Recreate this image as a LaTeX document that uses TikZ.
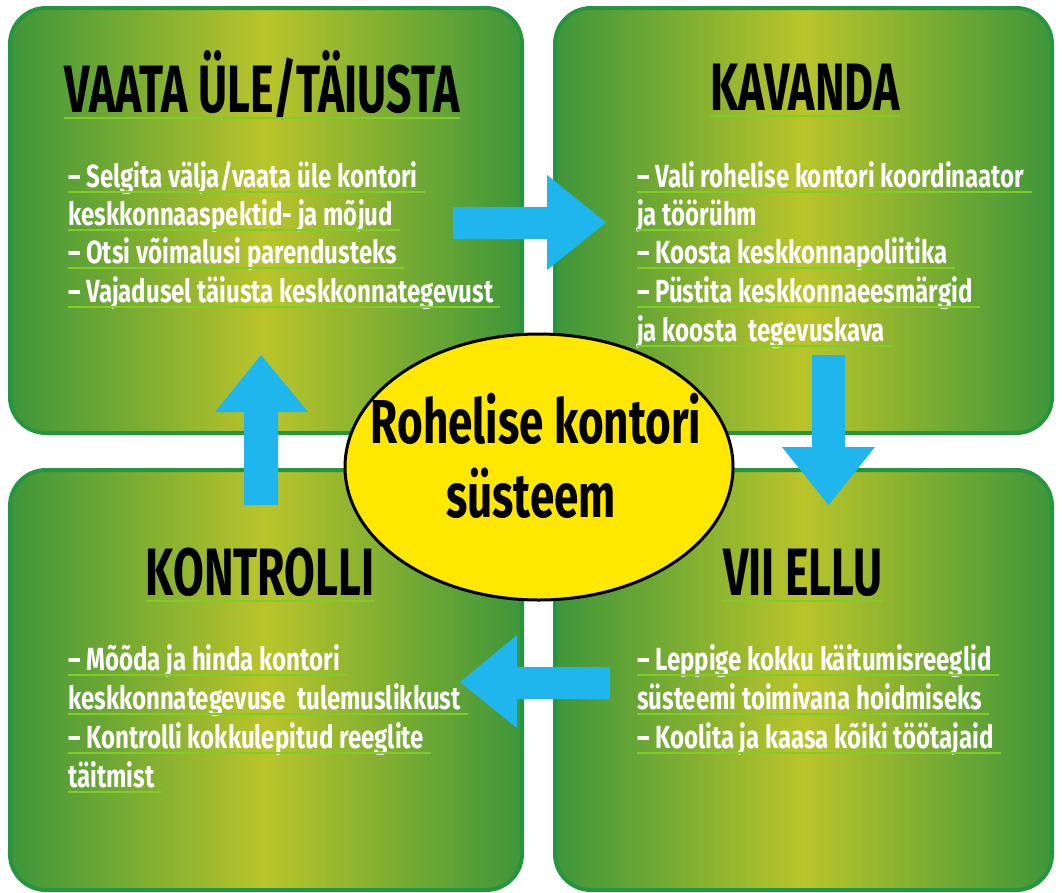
\documentclass[tikz,border=0pt]{standalone}
\usepackage{fontspec}
\newfontfamily\bodyfnt{Fira Sans}[FakeStretch=0.75]
\newfontfamily\titlefnt{Fira Sans}[FakeStretch=0.665]
\newfontfamily\centfnt{Fira Sans}[FakeStretch=0.71]
\usetikzlibrary{shapes.geometric}
\definecolor{gedge}{RGB}{62,150,58}
\definecolor{gmid}{RGB}{186,196,42}
\definecolor{gborder}{RGB}{38,150,62}
\definecolor{arrowcyan}{RGB}{30,182,236}
\definecolor{ulgreen}{RGB}{130,204,40}
\definecolor{ellyellow}{RGB}{255,232,0}
\newcommand\bline[4]{\node[bodyline] (#1) at (#2,#3) {#4};
  \draw[ul] ([yshift=-5pt]#1.base west) -- ([xshift=7pt,yshift=-5pt]#1.base east);}
\newcommand\tline[4]{\node[ttl] (#1) at (#2,#3) {#4};
  \draw[ul] ([yshift=-6pt]#1.base west) -- ([yshift=-6pt]#1.base east);}
\begin{document}
\begin{tikzpicture}[x=1pt,y=-1pt,
  panel/.style={draw=gborder, line width=4pt, rounded corners=36pt,
    left color=gedge, right color=gedge, middle color=gmid, inner sep=0pt},
  ttl/.style={font=\titlefnt\bfseries\fontsize{67}{67}\selectfont, text=black, inner sep=0pt, anchor=base},
  bodyline/.style={font=\bodyfnt\bfseries\fontsize{32}{32}\selectfont, text=white, inner sep=0pt, anchor=base west},
  ul/.style={draw=ulgreen, line width=2pt},
  blockarrow/.style={fill=arrowcyan},
  ctext/.style={font=\centfnt\bfseries\fontsize{62}{62}\selectfont, text=black, inner sep=0pt, anchor=base}]
\fill[white] (0,0) rectangle (1062,892);
\useasboundingbox (0,0) rectangle (1062,892);

% panels
\node[panel, minimum width=512pt, minimum height=425pt] (pTL) at (266,220.5) {};
\node[panel, minimum width=497pt, minimum height=425pt] (pTR) at (803.5,220.5) {};
\node[panel, minimum width=512pt, minimum height=420pt] (pBL) at (266,680) {};
\node[panel, minimum width=497pt, minimum height=420pt] (pBR) at (803.5,680) {};

% block arrows
\fill[blockarrow] (453,207) -- (547,207) -- (547,175) -- (606,222.5) -- (547,270) -- (547,239) -- (453,239) -- cycle;
\fill[blockarrow] (812,355) -- (845,355) -- (845,447) -- (875,447) -- (828.5,505) -- (782,447) -- (812,447) -- cycle;
\fill[blockarrow] (610,667) -- (517,667) -- (517,635) -- (460,682) -- (517,728) -- (517,699) -- (610,699) -- cycle;
\fill[blockarrow] (244,505) -- (244,412) -- (215,412) -- (261,355) -- (308,412) -- (278,412) -- (278,505) -- cycle;

% centre ellipse
\node[ellipse, draw=black, line width=3pt, fill=ellyellow, minimum width=388pt, minimum height=266pt] (ell) at (539,467) {};
\node[ctext] (c1) at (536,443) {Rohelise kontori};
\node[ctext] (c2) at (531,517) {süsteem};

% top left
\tline{tTL}{262}{112}{VAATA ÜLE/TÄIUSTA}
\bline{a1}{68}{187}{– Selgita välja/vaata üle kontori}
\bline{a2}{68}{225}{keskkonnaaspektid- ja mõjud}
\bline{a3}{68}{263}{– Otsi võimalusi parendusteks}
\bline{a4}{68}{302}{– Vajadusel täiusta keskkonnategevust}

% top right
\tline{tTR}{805}{110}{KAVANDA}
\bline{b1}{637}{187}{– Vali rohelise kontori koordinaator}
\bline{b2}{637}{225}{ja töörühm}
\bline{b3}{637}{263}{– Koosta keskkonnapoliitika}
\bline{b4}{637}{302}{– Püstita keskkonnaeesmärgid}
\bline{b5}{637}{341}{ja koosta\ \ tegevuskava}

% bottom left
\tline{tBL}{260}{595}{KONTROLLI}
\bline{c1l}{68}{670}{– Mõõda ja hinda kontori}
\bline{c2l}{68}{709}{keskkonnategevuse\ \ tulemuslikkust}
\bline{c3l}{68}{748}{– Kontrolli kokkulepitud reeglite}
\bline{c4l}{68}{787}{täitmist}

% bottom right
\tline{tBR}{803}{595}{VII ELLU}
\bline{d1}{637}{670}{– Leppige kokku käitumisreeglid}
\bline{d2}{637}{709}{süsteemi toimivana hoidmiseks}
\bline{d3}{637}{748}{– Koolita ja kaasa kõiki töötajaid}
\end{tikzpicture}
\end{document}
